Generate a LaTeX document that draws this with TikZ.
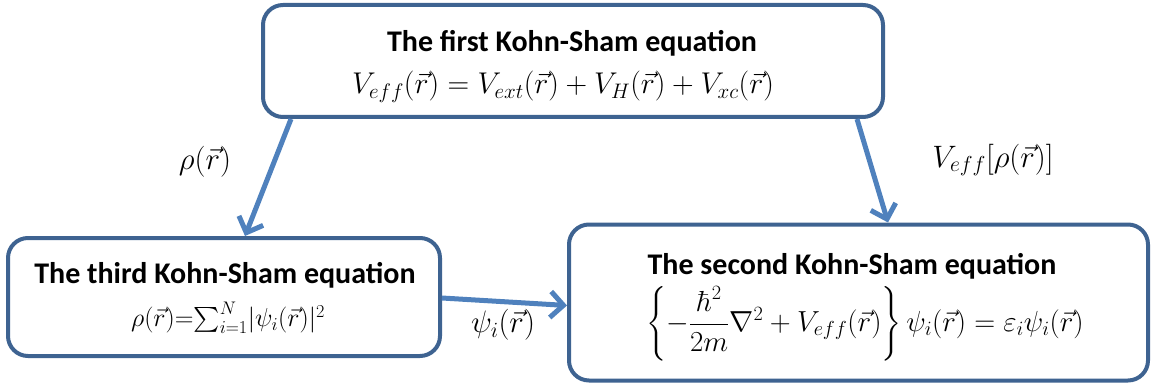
\RequirePackage{fix-cm}
\documentclass[tikz,border=0pt]{standalone}
\usepackage{amsmath}
\usepackage[no-math]{fontspec}
\setmainfont{Carlito}
\usetikzlibrary{arrows.meta,calc}
\definecolor{boxc}{HTML}{3E6391}
\definecolor{arrc}{HTML}{4F81BD}
\tikzset{
  eqbox/.style={draw=boxc,line width=4pt,rounded corners=20pt,fill=white,inner sep=0pt},
  ttl/.style={font=\fontsize{30}{34}\selectfont\bfseries,inner sep=0pt},
  eqn/.style={font=\fontsize{30}{34}\selectfont,inner sep=0pt},
  lbl/.style={font=\fontsize{31}{35}\selectfont,inner sep=0pt},
  flow/.style={draw=arrc,line width=5pt,-{Straight Barb[length=13pt,width=26pt,line width=5pt]}}
}
\begin{document}
\begin{tikzpicture}[x=1pt,y=-1pt]
\useasboundingbox (0,0) rectangle (1154,385);
\node[eqbox,minimum width=620pt,minimum height=112pt] (top) at (573,61) {};
\node[eqbox,minimum width=432pt,minimum height=118pt] (bl) at (224,297) {};
\node[eqbox,minimum width=579pt,minimum height=156pt] (br) at (858.5,302.5) {};
\node[ttl] (t1) at (572,43) {The first Kohn-Sham equation};
\node[eqn] (e1) at (563,87) {$V_{eff}(\vec r)=V_{ext}(\vec r)+V_{H}(\vec r)+V_{xc}(\vec r)$};
\node[ttl] (t3) at (225,275) {The third Kohn-Sham equation};
\node[eqn,font=\fontsize{26}{30}\selectfont] (e3) at (228,318) {$\rho(\vec r)\mathrm{=}{\textstyle\sum_{i=1}^{N}}{|}\psi_i(\vec r)|^2$};
\node[ttl] (t2) at (852,266) {The second Kohn-Sham equation};
\node[eqn,font=\fontsize{29}{33}\selectfont] (e2) at (865,324) {$\left\{-\dfrac{\hbar^2}{2m}\nabla^2+V_{eff}(\vec r)\right\}\psi_i(\vec r)=\varepsilon_i\psi_i(\vec r)$};
\draw[flow] ([xshift=30pt]top.south west) -- ([xshift=239pt]bl.north west);
\draw[flow] ([xshift=-28pt]top.south east) -- ([xshift=321pt]br.north west);
\draw[flow] ([yshift=-1pt]bl.east) -- ([yshift=-3pt]br.west);
\node[lbl] (l1) at (205,162) {$\rho(\vec r)$};
\node[lbl] (l2) at (993,160) {$V_{eff}[\rho(\vec r)]$};
\node[lbl] (l3) at (503,325) {$\psi_i(\vec r)$};
\end{tikzpicture}
\end{document}
